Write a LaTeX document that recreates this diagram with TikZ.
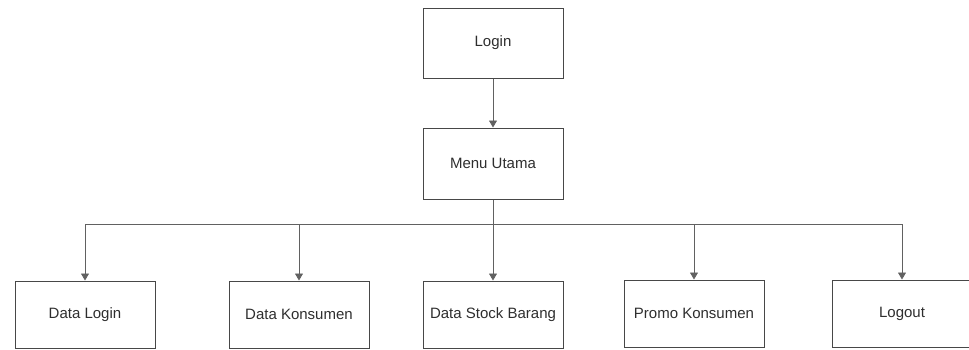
\documentclass[tikz,border=0pt]{standalone}
\usepackage{fontspec}
\setmainfont{Liberation Sans}
\usetikzlibrary{arrows.meta}
\begin{document}
\begin{tikzpicture}[x=1pt,y=-1pt,
  box/.style={draw=black!72, line width=1pt, minimum width=140pt, minimum height=70pt,
    inner sep=0pt, font=\fontsize{15}{17}\selectfont, text=black!82},
  lowbox/.style={box, minimum height=67pt},
  link/.style={draw=black!62, line width=0.8pt},
  arr/.style={link, -{Triangle[length=7pt,width=8pt]}}]
\useasboundingbox (0,0) rectangle (969,349);
\clip (0,0) rectangle (969,349);

% top level
\node[box] (login) at (493,43) {Login};
\node[box, minimum height=71pt] (menu) at (493,163.5) {Menu Utama};

% menu entries
\node[lowbox] (dlogin)  at (85,314.5)  {Data Login};
\node[lowbox] (dkons)   at (299,314.5) {Data Konsumen};
\node[lowbox] (dstock)  at (493,314.5) {Data Stock Barang};
\node[lowbox] (promo)   at (694,313.5) {Promo Konsumen};
\node[lowbox] (logout)  at (902,313.5) {Logout};

% connectors
\draw[arr] (login.south) -- (menu.north);
\draw[link] (menu.south) -- ++(0,25) coordinate (bus);
\draw[arr] (bus) -| (dlogin.north);
\draw[arr] (bus) -| (dkons.north);
\draw[arr] (bus) -- (dstock.north);
\draw[arr] (bus) -| (promo.north);
\draw[arr] (bus) -| (logout.north);
\end{tikzpicture}
\end{document}
